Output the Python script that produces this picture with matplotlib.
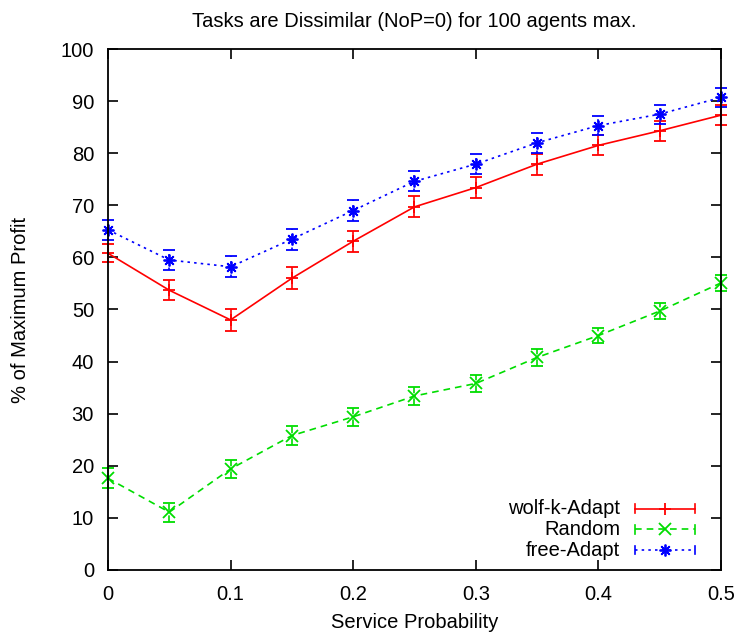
import matplotlib
matplotlib.use("Agg")
import matplotlib.pyplot as plt
from matplotlib.lines import Line2D

plt.rcParams["font.family"] = ["Liberation Sans", "DejaVu Sans"]
plt.rcParams["font.size"] = 14.5

service_prob = [0.0, 0.05, 0.1, 0.15, 0.2, 0.25, 0.3, 0.35, 0.4, 0.45, 0.5]

wolf_k = [60.8, 53.7, 48.0, 56.0, 63.1, 69.7, 73.4, 77.9, 81.5, 84.3, 87.3]
wolf_k_err = [1.7, 1.9, 2.1, 2.1, 2.0, 2.0, 2.0, 2.0, 1.9, 1.9, 1.9]

random_ = [17.6, 11.1, 19.4, 25.8, 29.4, 33.4, 35.8, 40.8, 45.0, 49.7, 55.1]
random_err = [1.9, 1.8, 1.8, 1.8, 1.7, 1.7, 1.6, 1.6, 1.5, 1.5, 1.5]

free_adapt = [65.3, 59.5, 58.2, 63.5, 69.0, 74.6, 77.9, 82.0, 85.3, 87.5, 90.7]
free_adapt_err = [1.9, 1.9, 2.0, 2.0, 2.0, 1.9, 1.9, 1.9, 1.8, 1.8, 1.8]

labels = ["wolf-k-Adapt", "Random", "free-Adapt"]
colors = ["#ff0000", "#00dd00", "#0000ff"]
styles = ["-", (0, (4, 3)), (0, (1.5, 2.5))]
markers = ["+", "x", (8, 2, 0)]

fig = plt.figure(figsize=(7.41, 6.39), dpi=100)
ax = fig.add_axes([0.1457, 0.108, 0.8273, 0.8153])

series = [(wolf_k, wolf_k_err), (random_, random_err), (free_adapt, free_adapt_err)]
for (vals, errs), lab, c, ls, m in zip(series, labels, colors, styles, markers):
    eb = ax.errorbar(service_prob, vals, yerr=errs, color=c, linestyle=ls,
                     marker=m, markersize=8.5, markeredgewidth=1.3, linewidth=1.2,
                     elinewidth=1.2, capsize=4, capthick=1.2, label=lab,
                     clip_on=False)
    for bar in eb[2]:
        bar.set_linestyle(ls if ls != "-" else "solid")

# gnuplot-style legend: right-aligned text, sample line with end caps
for i, (lab, c, ls, m) in enumerate(zip(labels, colors, styles, markers)):
    y = 0.118 - i * 0.04
    ax.text(0.836, y, lab, transform=ax.transAxes, ha="right", va="center")
    ax.add_line(Line2D([0.86, 0.958], [y, y], transform=ax.transAxes,
                       color=c, linestyle=ls, linewidth=1.2))
    for xe in (0.86, 0.958):
        ax.add_line(Line2D([xe, xe], [y - 0.008, y + 0.008], transform=ax.transAxes,
                           color=c, linewidth=1.2))
    ax.add_line(Line2D([0.909], [y], transform=ax.transAxes, color=c,
                       marker=m, markersize=8.5, markeredgewidth=1.3))

ax.set_xlim(0, 0.5)
ax.set_ylim(0, 100)
ax.set_xticks(service_prob[::2])
ax.set_xticklabels(["0", "0.1", "0.2", "0.3", "0.4", "0.5"])
ax.set_yticks(range(0, 101, 10))
ax.tick_params(direction="in", length=7, width=1.2, top=True, right=True)
ax.tick_params(axis="x", pad=11)
ax.tick_params(axis="y", pad=10)
for sp in ax.spines.values():
    sp.set_linewidth(1.3)

ax.set_xlabel("Service Probability", labelpad=6)
ax.set_ylabel("% of Maximum Profit", labelpad=22)
ax.set_title("Tasks are Dissimilar (NoP=0) for 100 agents max.", pad=16,
             fontsize=14.5)

fig.savefig("out.png", dpi=100)
